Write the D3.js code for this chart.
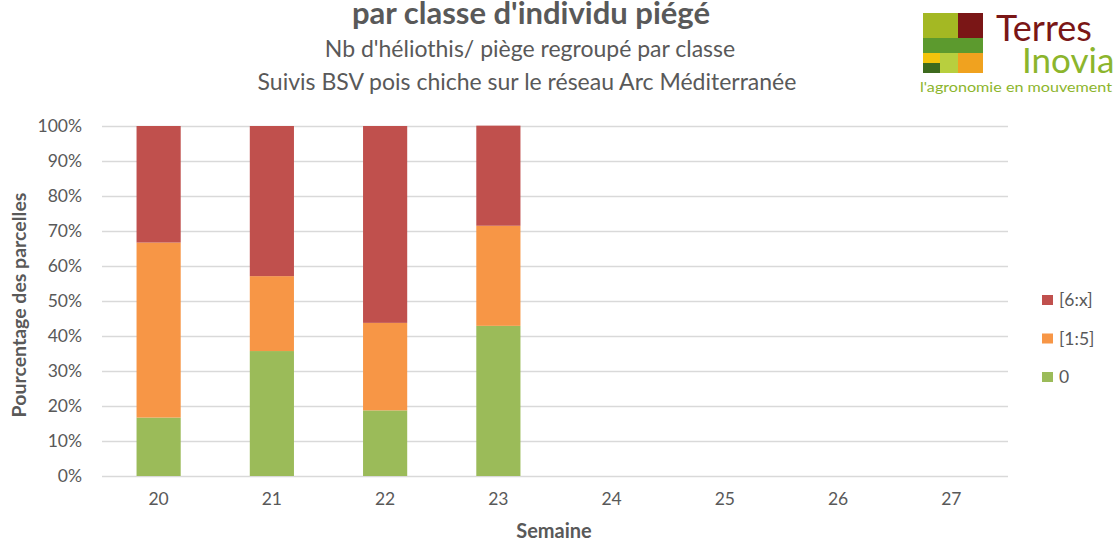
<!DOCTYPE html>
<html lang="fr">
<head>
<meta charset="UTF-8">
<title>Héliothis par classe</title>
<script src="https://cdn.jsdelivr.net/npm/d3@7"></script>
<style>
  body { margin: 0; background: #fff; }
  text { font-family: Lato, "Open Sans", sans-serif; }
</style>
</head>
<body>
<div id="chart"></div>
<script>
  // data
  const weeks = ['20', '21', '22', '23', '24', '25', '26', '27']
  const classes = ['0', '[1:5]', '[6:x]']
  const zeroPct = [16.7, 35.7, 18.75, 42.9, null, null, null, null]
  const oneToFivePct = [50, 21.4, 25, 28.6, null, null, null, null]
  const sixPlusPct = [33.3, 42.9, 56.25, 28.6, null, null, null, null]
  const yTicks = [0, 10, 20, 30, 40, 50, 60, 70, 80, 90, 100]
  const colors = { '0': '#9bbb59', '[1:5]': '#f79646', '[6:x]': '#c0504d' }

  const width = 1114
  const height = 543
  const marginLeft = 102
  const marginRight = 106
  const marginTop = 126
  const marginBottom = 67

  const svg = d3.select('#chart').append('svg')
    .attr('width', width)
    .attr('height', height)

  const rows = weeks.map((w, i) => ({
    week: w, '0': zeroPct[i], '[1:5]': oneToFivePct[i], '[6:x]': sixPlusPct[i]
  })).filter(d => d['0'] != null)

  const x = d3.scaleBand()
    .domain(weeks)
    .range([marginLeft, width - marginRight])
    .paddingInner(0.61)
    .paddingOuter(0.305)

  const y = d3.scaleLinear()
    .domain([0, 100])
    .range([height - marginBottom, marginTop])

  // grid + y labels
  svg.append('g')
    .attr('transform', `translate(${marginLeft},0)`)
    .call(d3.axisLeft(y).tickValues(yTicks).tickFormat(d => d + '%').tickSize(-(width - marginLeft - marginRight)).tickPadding(20))
    .call(g => g.select('.domain').remove())
    .call(g => g.selectAll('.tick line').attr('stroke', '#d9d9d9').attr('stroke-width', 1.3))
    .call(g => g.selectAll('.tick text').attr('fill', '#595959').style('font-size', '17.5px'))

  // stacked bars
  const stack = d3.stack().keys(classes)(rows)
  svg.append('g')
    .selectAll('g')
    .data(stack)
    .join('g')
    .attr('fill', s => colors[s.key])
    .selectAll('rect')
    .data(s => s)
    .join('rect')
    .attr('x', d => x(d.data.week))
    .attr('width', x.bandwidth())
    .attr('y', d => y(d[1]))
    .attr('height', d => y(d[0]) - y(d[1]))

  // x labels
  svg.append('g')
    .attr('transform', `translate(0,${height - marginBottom})`)
    .call(d3.axisBottom(x).tickSize(0).tickPadding(17))
    .call(g => g.select('.domain').remove())
    .call(g => g.selectAll('.tick text').attr('fill', '#595959').style('font-size', '17.5px'))

  // axis titles
  svg.append('text')
    .attr('x', 554).attr('y', 538)
    .attr('text-anchor', 'middle')
    .attr('fill', '#595959')
    .style('font-size', '20px').style('font-weight', 'bold')
    .text('Semaine')

  svg.append('text')
    .attr('transform', `translate(26,${y(50) + 4}) rotate(-90)`)
    .attr('text-anchor', 'middle')
    .attr('fill', '#595959')
    .style('font-size', '19.5px').style('font-weight', 'bold')
    .text('Pourcentage des parcelles')

  // titles
  svg.append('text')
    .attr('x', 531).attr('y', 24)
    .attr('text-anchor', 'middle')
    .attr('fill', '#595959')
    .style('font-size', '31px').style('font-weight', 'bold')
    .text("par classe d'individu piégé")

  svg.append('text')
    .attr('x', 530).attr('y', 57)
    .attr('text-anchor', 'middle')
    .attr('fill', '#595959')
    .style('font-size', '23px')
    .text("Nb d'héliothis/ piège regroupé par classe")

  svg.append('text')
    .attr('x', 527).attr('y', 90)
    .attr('text-anchor', 'middle')
    .attr('fill', '#595959')
    .style('font-size', '23px')
    .text('Suivis BSV pois chiche sur le réseau Arc Méditerranée')

  // legend
  const legend = svg.append('g')
    .selectAll('g')
    .data(classes.slice().reverse())
    .join('g')
    .attr('transform', (d, i) => `translate(1042,${300 + i * 38.5})`)
  legend.append('rect')
    .attr('y', -5).attr('width', 11).attr('height', 10)
    .attr('fill', d => colors[d])
  legend.append('text')
    .attr('x', 17).attr('dy', '0.35em')
    .attr('fill', '#595959')
    .style('font-size', '17.5px')
    .text(d => d)

  // logo
  const logo = svg.append('g')
  const logoBlocks = [
    [923, 13, 35, 25, '#a4b823'], [958, 13, 25, 25, '#7a1616'],
    [923, 38, 60, 15, '#5c9a2e'],
    [923, 53, 17, 10, '#f2c40c'], [923, 63, 17, 10, '#3d6a1e'],
    [940, 53, 18, 20, '#b8cf3e'], [958, 53, 25, 20, '#f0a21f']
  ]
  logo.selectAll('rect').data(logoBlocks).join('rect')
    .attr('x', d => d[0]).attr('y', d => d[1])
    .attr('width', d => d[2]).attr('height', d => d[3])
    .attr('fill', d => d[4])
  logo.append('text')
    .attr('x', 996).attr('y', 41)
    .attr('fill', '#7a1616')
    .style('font-size', '36px')
    .text('Terres')
  logo.append('text')
    .attr('x', 1022).attr('y', 73)
    .attr('fill', '#8cb52c')
    .style('font-size', '35px')
    .text('Inovia')
  logo.append('text')
    .attr('x', 920).attr('y', 92)
    .attr('fill', '#8cb52c')
    .attr('textLength', 192)
    .attr('lengthAdjust', 'spacingAndGlyphs')
    .style('font-size', '14px')
    .text("l'agronomie en mouvement")
</script>
</body>
</html>
